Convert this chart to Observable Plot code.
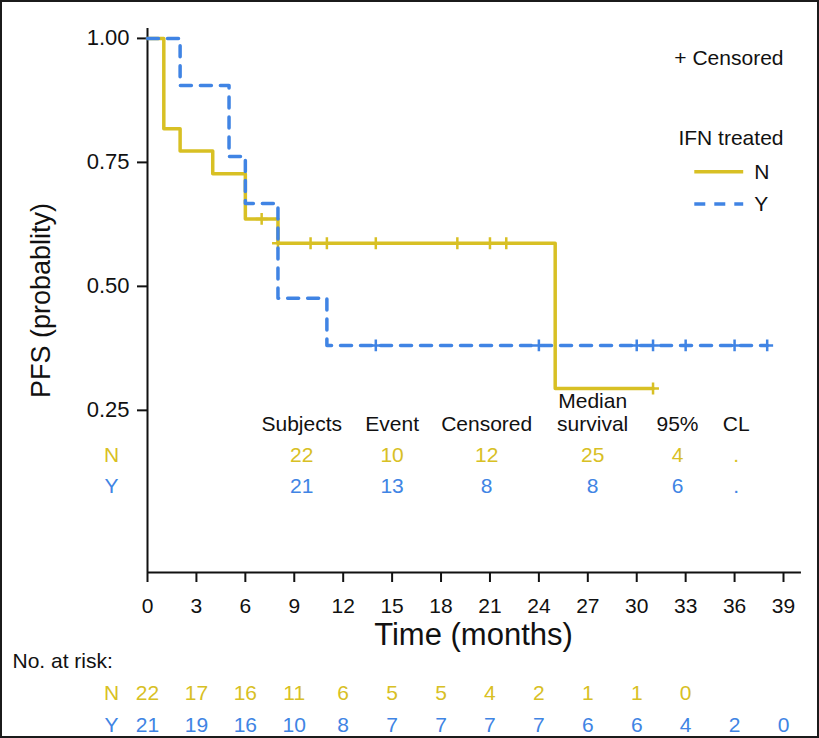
<!DOCTYPE html>
<html><head><meta charset="utf-8">
<script src="https://cdn.jsdelivr.net/npm/d3@7"></script>
<script src="https://cdn.jsdelivr.net/npm/@observablehq/plot@0.6"></script>
<style>
html,body{margin:0;padding:0;background:#fff;}
#frame{width:819px;height:738px;box-sizing:border-box;border:2px solid #1b1b1b;overflow:hidden;background:#fff;}
#frame svg{display:block;}
</style></head><body><div id="frame"></div>
<script>
// ---- data ----
const groups = ["N", "Y"];
const nTime = [0, 1, 2, 4, 6, 8, 25, 31];
const nSurv = [1.000, 0.818, 0.773, 0.727, 0.636, 0.587, 0.294, 0.294];
const yTime = [0, 2, 5, 6, 8, 11, 38];
const ySurv = [1.000, 0.905, 0.762, 0.667, 0.476, 0.381, 0.381];
const nCensorTime = [7, 8, 10, 11, 14, 19, 21, 22, 31];
const nCensorSurv = [0.636, 0.587, 0.587, 0.587, 0.587, 0.587, 0.587, 0.587, 0.294];
const yCensorTime = [14, 24, 30, 31, 33, 36, 38];
const yCensorSurv = [0.381, 0.381, 0.381, 0.381, 0.381, 0.381, 0.381];
const xTicks = [0, 3, 6, 9, 12, 15, 18, 21, 24, 27, 30, 33, 36, 39];
const yTicks = [0.25, 0.50, 0.75, 1.00];
const statHeaders = ["Subjects", "Event", "Censored", "survival", "95%", "CL"];
const statN = ["22", "10", "12", "25", "4", "."];
const statY = ["21", "13", "8", "8", "6", "."];
const riskTimes = [0, 3, 6, 9, 12, 15, 18, 21, 24, 27, 30, 33, 36, 39];
const riskN = [22, 17, 16, 11, 6, 5, 5, 4, 2, 1, 1, 0];
const riskY = [21, 19, 16, 10, 8, 7, 7, 7, 7, 6, 6, 4, 2, 0];

// ---- layout / style ----
const colN = "#D8C024", colY = "#4084E4";
const font = "'Liberation Sans', Arial, Helvetica, sans-serif";
const W = 815, ML = 145, MR = 34;
const statCols = [9.46, 15.0, 20.8, 27.3, 32.5, 36.1];
const statRowP = {median: 0.268, head: 0.2225, N: 0.160, Y: 0.0966};
const rowLabelT = -2.2;
const yMin = -0.077, yMax = 1.02;

const curveN = nTime.map((t, i) => ({time: t, surv: nSurv[i]}));
const curveY = yTime.map((t, i) => ({time: t, surv: ySurv[i]}));
const censN = nCensorTime.map((t, i) => ({time: t, surv: nCensorSurv[i]}));
const censY = yCensorTime.map((t, i) => ({time: t, surv: yCensorSurv[i]}));
const statRows = [];
statHeaders.forEach((h, i) => {
  statRows.push({t: statCols[i], p: statRowP.head, text: h, c: "#111"});
  statRows.push({t: statCols[i], p: statRowP.N, text: statN[i], c: colN});
  statRows.push({t: statCols[i], p: statRowP.Y, text: statY[i], c: colY});
});
statRows.push({t: statCols[3], p: statRowP.median, text: "Median", c: "#111"});
statRows.push({t: rowLabelT, p: statRowP.N, text: groups[0], c: colN});
statRows.push({t: rowLabelT, p: statRowP.Y, text: groups[1], c: colY});

const main = Plot.plot({
  width: W, height: 648, marginLeft: ML, marginRight: MR, marginTop: 26, marginBottom: 78,
  style: {fontFamily: font, fontSize: "21px", background: "white", overflow: "visible", color: "#111"},
  x: {domain: [0, 39]},
  y: {domain: [yMin, yMax]},
  marks: [
    Plot.ruleX([0], {y1: yMin, y2: yMax, stroke: "#111", strokeWidth: 2}),
    Plot.ruleY([yMin], {x1: 0, x2: 40.1, stroke: "#111", strokeWidth: 2}),
    Plot.axisY({ticks: yTicks, tickFormat: d3.format(".2f"), tickSize: 10, tickPadding: 8, fontSize: 22, label: null, strokeWidth: 2, stroke: "#111"}),
    Plot.axisX({ticks: xTicks, tickFormat: d => String(d), tickSize: 10, tickPadding: 16, fontSize: 21, label: null, strokeWidth: 2, stroke: "#111"}),
    Plot.text(["Time (months)"], {frameAnchor: "bottom", textAnchor: "middle", lineAnchor: "middle", dx: 8, dy: 63, fontSize: 31, fill: "#111"}),
    Plot.text(["PFS (probablity)"], {frameAnchor: "left", textAnchor: "middle", lineAnchor: "middle", rotate: -90, dx: -106, dy: 0, fontSize: 27, fill: "#111"}),
    Plot.line(curveN, {x: "time", y: "surv", curve: "step-after", stroke: colN, strokeWidth: 3.5}),
    Plot.dot(censN, {x: "time", y: "surv", symbol: "plus", r: 3.9, stroke: colN, strokeWidth: 2.5}),
    Plot.line(curveY, {x: "time", y: "surv", curve: "step-after", stroke: colY, strokeWidth: 3.5, strokeDasharray: "11,9"}),
    Plot.dot(censY, {x: "time", y: "surv", symbol: "plus", r: 3.9, stroke: colY, strokeWidth: 2.5}),
    // legend
    Plot.text(["+ Censored"], {x: 39, y: 0.959, textAnchor: "end", fontSize: 21, fill: "#111"}),
    Plot.text(["IFN treated"], {x: 39, y: 0.798, textAnchor: "end", fontSize: 21, fill: "#111"}),
    Plot.ruleY([0.731], {x1: 33.56, x2: 36.56, stroke: colN, strokeWidth: 3.5}),
    Plot.ruleY([0.666], {x1: 33.56, x2: 36.56, stroke: colY, strokeWidth: 3.5, strokeDasharray: "11,9"}),
    Plot.text(groups.slice(0, 1), {x: 37.2, y: 0.731, textAnchor: "start", fontSize: 21, fill: "#111"}),
    Plot.text(groups.slice(1, 2), {x: 37.2, y: 0.666, textAnchor: "start", fontSize: 21, fill: "#111"}),
    // stats table
    Plot.text(statRows, {x: "t", y: "p", text: "text", fill: "c", fontSize: 21})
  ]
});

const riskRows = [
  ...riskN.map((v, i) => ({t: riskTimes[i], row: 1, v: String(v), c: colN})),
  ...riskY.map((v, i) => ({t: riskTimes[i], row: 2, v: String(v), c: colY}))
];
groups.forEach((g, i) => riskRows.push({t: rowLabelT, row: i + 1, v: g, c: i === 0 ? colN : colY}));
const risk = Plot.plot({
  width: W, height: 86, marginLeft: ML, marginRight: MR, marginTop: 0, marginBottom: 0,
  style: {fontFamily: font, fontSize: "21px", background: "white", overflow: "visible"},
  x: {domain: [0, 39], axis: null},
  y: {domain: [0, 2], range: [10.5, 75], axis: null},
  marks: [
    Plot.text(["No. at risk:"], {y: () => 0, frameAnchor: "left", textAnchor: "start", lineAnchor: "middle", dx: -135, fontSize: 21, fill: "#111"}),
    Plot.text(riskRows, {x: "t", y: "row", text: "v", fill: "c", fontSize: 21})
  ]
});

const frame = document.getElementById("frame");
frame.appendChild(main);
frame.appendChild(risk);
</script></body></html>
